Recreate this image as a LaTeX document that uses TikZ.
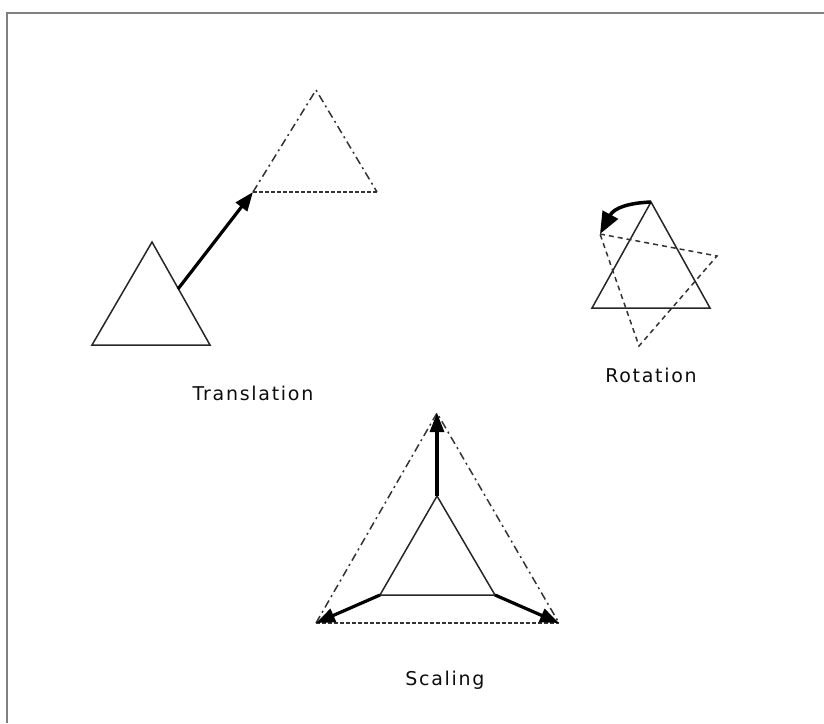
\documentclass[tikz,border=0pt]{standalone}
\usepackage{fontspec}
\newfontfamily\labfont[LetterSpace=9]{DejaVu Sans}
\usetikzlibrary{arrows.meta}
\tikzset{
  solidtri/.style={line width=1.5pt, line join=miter, black!85},
  dashdot/.style={line width=1.5pt, black!80, dash pattern=on 8pt off 4pt on 2pt off 4pt},
  dotline/.style={line width=1.8pt, black!80, dash pattern=on 3.5pt off 2.5pt},
  rotdash/.style={line width=1.5pt, black!80, dash pattern=on 5pt off 4pt},
  bigarrow/.style={line width=3.2pt, black, -{Triangle[length=19pt,width=14pt]}},
  frame/.style={line width=2.2pt, black!50},
  lab/.style={font=\labfont\fontsize{19}{22}\selectfont, text=black!95, inner sep=0pt}
}
\begin{document}
\begin{tikzpicture}[x=1pt,y=-1pt]
\useasboundingbox (0,0) rectangle (824,723);
% frame
\draw[frame] (7,723) -- (7,13) -- (824,13);

% ---------- Translation ----------
\coordinate (ta) at (152,242);
\coordinate (tl) at (92,345);
\coordinate (tr) at (210,345);
\draw[solidtri] (ta) -- (tl) -- (tr) -- cycle;
\coordinate (ua) at (316,90);
\coordinate (ul) at (253,192);
\coordinate (ur) at (377,192);
\draw[dashdot] (ul) -- (ua) -- (ur);
\draw[dotline] (ul) -- (ur);
\coordinate (tstart) at (178,289);
\draw[bigarrow] (tstart) -- (ul);
\node[lab] (tlab) at (253,393) {Translation};

% ---------- Rotation ----------
\coordinate (ra) at (651,202);
\coordinate (rl) at (592,308);
\coordinate (rr) at (710,308);
\draw[solidtri] (ra) -- (rl) -- (rr) -- cycle;
\coordinate (qa) at (600,234);
\coordinate (qr) at (717,256);
\coordinate (qb) at (639,346);
\draw[rotdash] (qa) -- (qr) -- (qb) -- cycle;
\draw[bigarrow, line width=3.5pt, -{Triangle[length=22pt,width=17pt]}] (ra) .. controls (628,203) and (614,208) .. (qa);
\node[lab] (rlab) at (651,375) {Rotation};

% ---------- Scaling ----------
\coordinate (sa) at (437,496);
\coordinate (sl) at (380,595);
\coordinate (sr) at (495,595);
\draw[solidtri] (sa) -- (sl) -- (sr) -- cycle;
\coordinate (oa) at (437,413);
\coordinate (ol) at (316,623);
\coordinate (or) at (559,623);
\draw[dashdot] (ol) -- (oa) -- (or);
\draw[dotline] (ol) -- (or);
\draw[bigarrow] (sa) -- (oa);
\draw[bigarrow] (sl) -- (ol);
\draw[bigarrow] (sr) -- (or);
\node[lab] (slab) at (445,680) {Scaling};
\end{tikzpicture}
\end{document}
